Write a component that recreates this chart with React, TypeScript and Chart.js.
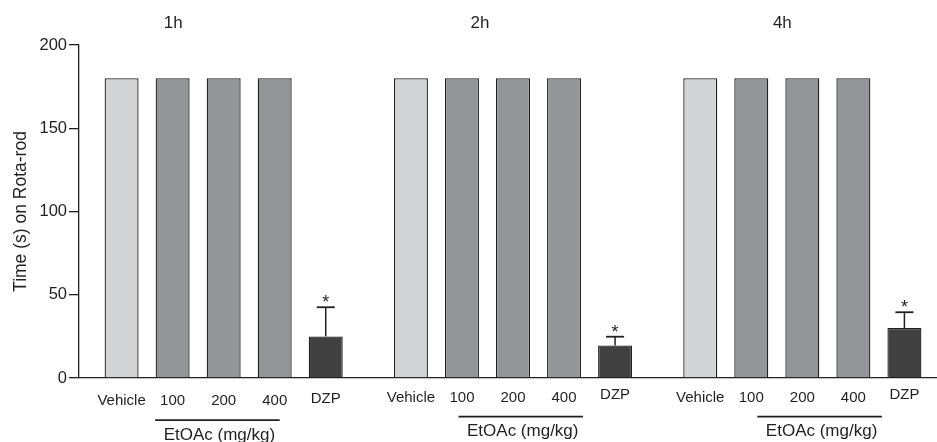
import React, { useEffect, useRef } from 'react';
import { Chart, registerables } from 'chart.js';

Chart.register(...registerables);

// ---- data ----
const timePoints = ['1h', '2h', '4h'];
const groupNames = ['Vehicle', '100', '200', '400', 'DZP'];
const vehicle = [180, 180, 180];
const etoac100 = [180, 180, 180];
const etoac200 = [180, 180, 180];
const etoac400 = [180, 180, 180];
const dzp = [25, 19.5, 30];
const dzpErr = [17.5, 5.3, 9.5];
const dzpSig = ['*', '*', '*'];
const yTicks = [0, 50, 100, 150, 200];
const doseLabel = 'EtOAc (mg/kg)';
const yTitle = 'Time (s) on Rota-rod';

// ---- style ----
const INK = '#231f20';
const FONT = '"Liberation Sans", Arial, Helvetica, sans-serif';
const C_VEH = '#d1d3d4';
const C_ETO = '#939598';
const C_DZP = '#404041';

// layout constants for annotations (pixels relative to category centre)
const titleDx = [-50.5, -33, -20];
const groupDy = [3.5, 0, 0];
const lineStartDx = [-68.5, -54.5, -45];
const lineLen = 124.5;

const annotPlugin = {
  id: 'annot',
  afterDraw(chart: any) {
    const ctx = chart.ctx as CanvasRenderingContext2D;
    const ys = chart.scales.y;
    const xs = chart.scales.x;
    const area = chart.chartArea;
    ctx.save();
    ctx.fillStyle = INK;
    ctx.strokeStyle = INK;

    // error bars + significance
    const meta = chart.getDatasetMeta(4);
    meta.data.forEach((bar: any, i: number) => {
      const top = ys.getPixelForValue(dzp[i] + dzpErr[i]);
      ctx.lineWidth = 1.5;
      ctx.beginPath();
      ctx.moveTo(bar.x, bar.y);
      ctx.lineTo(bar.x, top);
      ctx.stroke();
      ctx.lineWidth = 1.8;
      ctx.beginPath();
      ctx.moveTo(bar.x - 9, top);
      ctx.lineTo(bar.x + 9, top);
      ctx.stroke();
      ctx.font = `18px ${FONT}`;
      ctx.textAlign = 'center';
      ctx.textBaseline = 'alphabetic';
      ctx.fillText(dzpSig[i], bar.x, top + 1);
    });

    // bar labels under the axis
    ctx.font = `15px ${FONT}`;
    ctx.textAlign = 'center';
    ctx.textBaseline = 'middle';
    chart.data.datasets.forEach((_ds: any, d: number) => {
      const m = chart.getDatasetMeta(d);
      m.data.forEach((bar: any, i: number) => {
        const yy = area.bottom + 19.5 + groupDy[i] + (d === 4 ? -2.5 : 0);
        ctx.fillText(groupNames[d], bar.x, yy);
      });
    });

    // dose underline + label, time titles
    timePoints.forEach((t, i) => {
      const cx = xs.getPixelForValue(i);
      const x0 = cx + lineStartDx[i];
      const ly = area.bottom + 38.7 + groupDy[i];
      ctx.lineWidth = 1.8;
      ctx.beginPath();
      ctx.moveTo(x0, ly);
      ctx.lineTo(x0 + lineLen, ly);
      ctx.stroke();
      ctx.font = `17px ${FONT}`;
      ctx.textBaseline = 'middle';
      ctx.fillText(doseLabel, x0 + lineLen / 2 + 2, ly + 15);

      ctx.font = `17px ${FONT}`;
      ctx.fillText(t, cx + titleDx[i], area.top - 21.5);
    });
    ctx.restore();
  },
};

export default function App() {
  const ref = useRef<HTMLCanvasElement>(null);
  useEffect(() => {
    if (!ref.current) return;
    const chart = new Chart(ref.current, {
      type: 'bar',
      data: {
        labels: timePoints,
        datasets: [
          { label: groupNames[0], data: vehicle, backgroundColor: C_VEH },
          { label: groupNames[1], data: etoac100, backgroundColor: C_ETO },
          { label: groupNames[2], data: etoac200, backgroundColor: C_ETO },
          { label: groupNames[3], data: etoac400, backgroundColor: C_ETO },
          { label: groupNames[4], data: dzp, backgroundColor: C_DZP },
        ].map((d) => ({
          ...d,
          borderColor: INK,
          borderWidth: 1.3,
          categoryPercentage: 0.882,
          barPercentage: 0.666,
        })),
      },
      options: {
        responsive: false,
        animation: false,
        devicePixelRatio: 1,
        layout: { padding: { top: 45, bottom: 64, left: 0, right: 0 } },
        plugins: { legend: { display: false }, tooltip: { enabled: false } },
        scales: {
          x: {
            type: 'category',
            ticks: { display: false },
            grid: { display: false, drawTicks: false },
            border: { display: true, color: INK, width: 1.3 },
            afterFit: (s: any) => {
              s.height = 0;
            },
          },
          y: {
            min: 0,
            max: 200,
            afterBuildTicks: (s: any) => {
              s.ticks = yTicks.map((v) => ({ value: v }));
            },
            ticks: {
              color: INK,
              padding: 2,
              font: { family: FONT, size: 16.5 },
            },
            grid: {
              display: true,
              drawOnChartArea: false,
              drawTicks: true,
              tickLength: 10,
              color: INK,
              lineWidth: 1.3,
            },
            border: { display: true, color: INK, width: 1.3 },
            title: {
              display: true,
              text: yTitle,
              color: INK,
              font: { family: FONT, size: 17.5 },
              padding: { top: 11, bottom: 0 },
            },
            afterFit: (s: any) => {
              s.width = 79;
            },
          },
        },
      },
      plugins: [annotPlugin],
    } as any);
    return () => chart.destroy();
  }, []);
  return (
    <div
      style={{
        position: 'fixed',
        left: 0,
        top: 0,
        width: 937,
        height: 442,
        overflow: 'hidden',
        background: '#fff',
      }}
    >
      <canvas ref={ref} width={947} height={442} style={{ width: 947, height: 442 }} />
    </div>
  );
}
